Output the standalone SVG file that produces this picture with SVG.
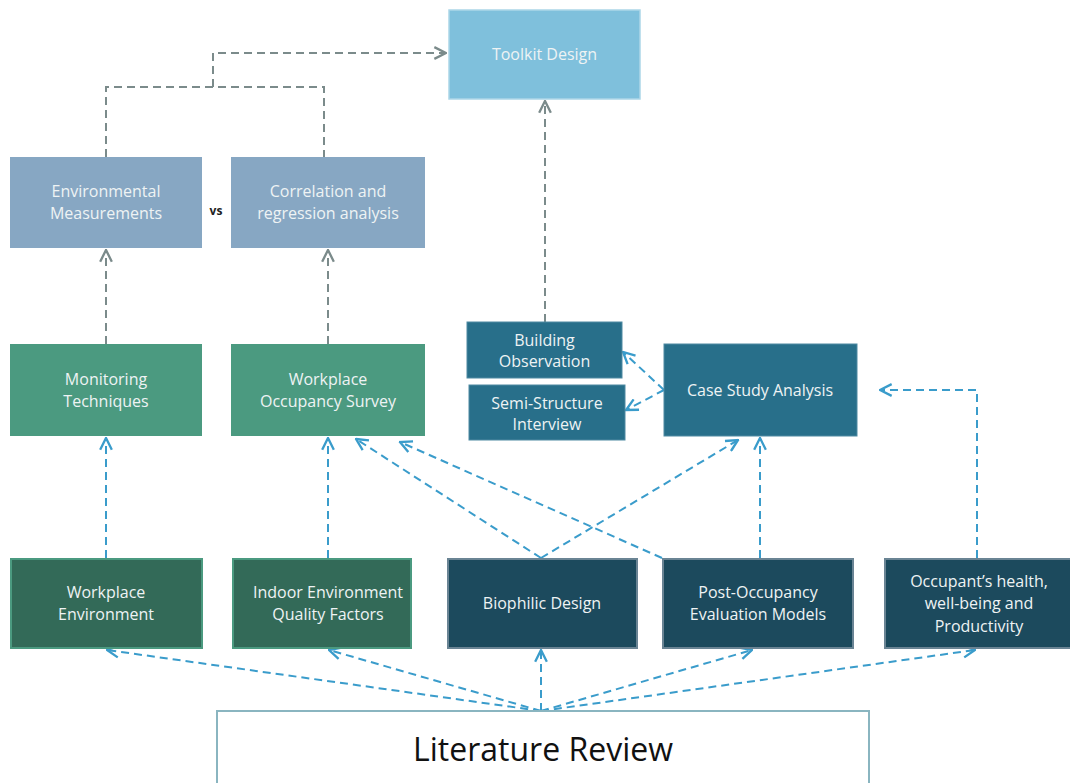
<svg xmlns="http://www.w3.org/2000/svg" width="1070" height="783" viewBox="0 0 1070 783">
  <style>
    .lbl { font-family: "Open Sans", "Noto Sans", sans-serif; font-size: 16px; fill: #eef3f4; text-anchor: middle; }
    .gray { fill: none; stroke: #7b8b8b; stroke-width: 2; stroke-dasharray: 8 5; }
    .blue { fill: none; stroke: #3a9ccb; stroke-width: 2; stroke-dasharray: 8 5; }
    .ag { marker-end: url(#arrowGray); }
    .ab { marker-end: url(#arrowBlue); }
  </style>
  <defs>
    <marker id="arrowGray" viewBox="0 0 12 12" refX="11" refY="6" markerWidth="14" markerHeight="14" markerUnits="userSpaceOnUse" orient="auto">
      <path d="M1,1 L11,6 L1,11" fill="none" stroke="#7b8b8b" stroke-width="2"/>
    </marker>
    <marker id="arrowBlue" viewBox="0 0 12 12" refX="11" refY="6" markerWidth="14" markerHeight="14" markerUnits="userSpaceOnUse" orient="auto">
      <path d="M1,1 L11,6 L1,11" fill="none" stroke="#3a9ccb" stroke-width="2"/>
    </marker>
  </defs>
  <rect width="1070" height="783" fill="#ffffff"/>

  <g id="connectors">
    <!-- top bracket to toolkit -->
    <path class="gray" d="M106,157 V87 H324 V157"/>
    <path class="gray ag" d="M213,87 V53 H446"/>
    <path class="gray ag" d="M545,322 V101"/>
    <path class="gray ag" d="M106,344 V250"/>
    <path class="gray ag" d="M328,344 V250"/>
    <!-- bottom row up to middle row -->
    <path class="blue ab" d="M106,558 V438"/>
    <path class="blue ab" d="M328,558 V438"/>
    <path class="blue ab" d="M541,558 L356,439"/>
    <path class="blue ab" d="M662,558 L400,442"/>
    <path class="blue ab" d="M541,558 L738,440"/>
    <path class="blue ab" d="M760,558 V438"/>
    <path class="blue ab" d="M977,558 V390 H880"/>
    <!-- case study to methods -->
    <path class="blue ab" d="M664,390 L623,352"/>
    <path class="blue ab" d="M664,390 L626,410"/>
    <!-- literature review fan-out -->
    <path class="blue ab" d="M541,711 L107,650"/>
    <path class="blue ab" d="M541,711 L329,650"/>
    <path class="blue ab" d="M541,711 V650"/>
    <path class="blue ab" d="M541,711 L752,650"/>
    <path class="blue ab" d="M541,711 L975,650"/>
  </g>

  <g id="toolkit-design">
    <rect x="449" y="10" width="191" height="89" fill="#7fc0dc" stroke="#acd6e8" stroke-width="1.5"/>
    <text class="lbl" x="544.5" y="60">Toolkit Design</text>
  </g>

  <g id="environmental-measurements">
    <rect x="10" y="157" width="192" height="91" fill="#87a7c3"/>
    <text class="lbl" x="106" y="197">Environmental</text>
    <text class="lbl" x="106" y="219">Measurements</text>
  </g>

  <g id="vs-label">
    <text x="216" y="215" font-family="Open Sans, sans-serif" font-size="12" font-weight="bold" fill="#222" text-anchor="middle">vs</text>
  </g>

  <g id="correlation-analysis">
    <rect x="231" y="157" width="194" height="91" fill="#87a7c3"/>
    <text class="lbl" x="328" y="197">Correlation and</text>
    <text class="lbl" x="328" y="219">regression analysis</text>
  </g>

  <g id="monitoring-techniques">
    <rect x="10" y="344" width="192" height="92" fill="#4b9a80"/>
    <text class="lbl" x="106" y="385">Monitoring</text>
    <text class="lbl" x="106" y="407">Techniques</text>
  </g>

  <g id="workplace-occupancy-survey">
    <rect x="231" y="344" width="194" height="92" fill="#4b9a80"/>
    <text class="lbl" x="328" y="385">Workplace</text>
    <text class="lbl" x="328" y="407">Occupancy Survey</text>
  </g>

  <g id="building-observation">
    <rect x="467" y="322" width="155" height="56" fill="#286f8a" stroke="#4e8aa2" stroke-width="1"/>
    <text class="lbl" x="544.5" y="346">Building</text>
    <text class="lbl" x="544.5" y="367">Observation</text>
  </g>

  <g id="semi-structure-interview">
    <rect x="469" y="385" width="156" height="55" fill="#286f8a" stroke="#4e8aa2" stroke-width="1"/>
    <text class="lbl" x="547" y="409">Semi-Structure</text>
    <text class="lbl" x="547" y="430">Interview</text>
  </g>

  <g id="case-study-analysis">
    <rect x="664" y="344" width="193" height="92" fill="#286f8a" stroke="#4e8aa2" stroke-width="1"/>
    <text class="lbl" x="760" y="396">Case Study Analysis</text>
  </g>

  <g id="workplace-environment">
    <rect x="11" y="559" width="191" height="89" fill="#336a58" stroke="#4b9a80" stroke-width="2"/>
    <text class="lbl" x="106" y="598">Workplace</text>
    <text class="lbl" x="106" y="620">Environment</text>
  </g>

  <g id="ieq-factors">
    <rect x="233" y="559" width="178" height="89" fill="#336a58" stroke="#4b9a80" stroke-width="2"/>
    <text class="lbl" x="328" y="598">Indoor Environment</text>
    <text class="lbl" x="328" y="620">Quality Factors</text>
  </g>

  <g id="biophilic-design">
    <rect x="448" y="559" width="189" height="89" fill="#1c4a5d" stroke="#6a8494" stroke-width="2"/>
    <text class="lbl" x="542" y="609">Biophilic Design</text>
  </g>

  <g id="post-occupancy-models">
    <rect x="663" y="559" width="190" height="89" fill="#1c4a5d" stroke="#6a8494" stroke-width="2"/>
    <text class="lbl" x="758" y="598">Post-Occupancy</text>
    <text class="lbl" x="758" y="620">Evaluation Models</text>
  </g>

  <g id="occupant-wellbeing">
    <rect x="885" y="559" width="190" height="89" fill="#1c4a5d" stroke="#6a8494" stroke-width="2"/>
    <text class="lbl" x="979" y="587">Occupant’s health,</text>
    <text class="lbl" x="979" y="609">well-being and</text>
    <text class="lbl" x="979" y="632">Productivity</text>
  </g>

  <g id="literature-review">
    <rect x="217" y="711" width="652" height="80" fill="#ffffff" stroke="#8ab5c0" stroke-width="2"/>
    <text x="543" y="761" font-family="Open Sans, Noto Sans, sans-serif" font-size="32" fill="#111" text-anchor="middle">Literature Review</text>
  </g>
</svg>
